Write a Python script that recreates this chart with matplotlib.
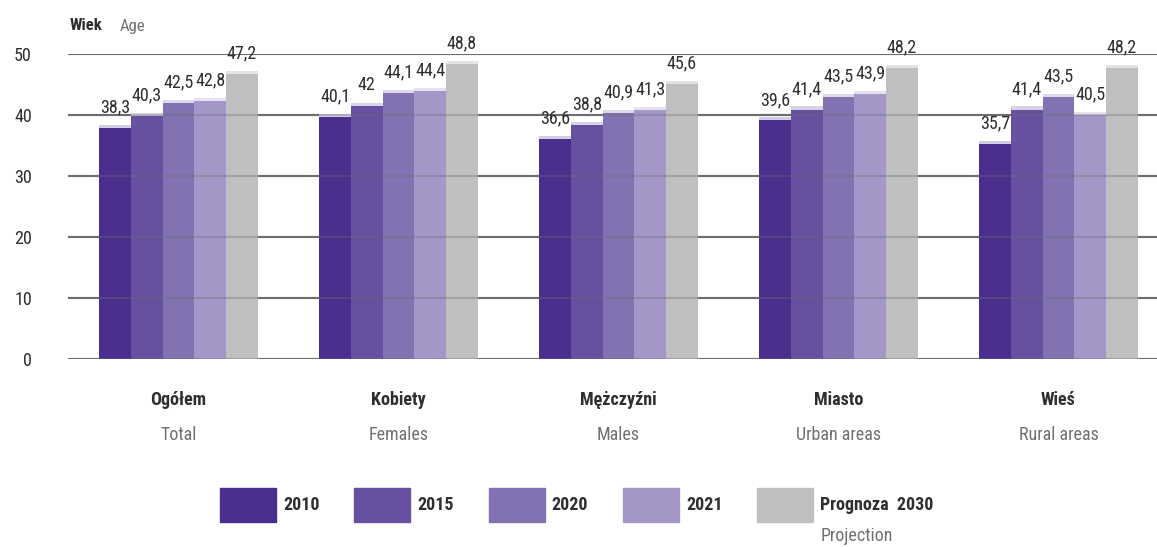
import matplotlib.pyplot as plt
import numpy as np
from matplotlib.patches import Rectangle

plt.rcParams['font.family'] = ['Liberation Sans Narrow', 'Roboto Condensed', 'DejaVu Sans']

# dane
cats_pl = ['Ogółem', 'Kobiety', 'Mężczyźni', 'Miasto', 'Wieś']
cats_en = ['Total', 'Females', 'Males', 'Urban areas', 'Rural areas']
series = ['2010', '2015', '2020', '2021', 'Prognoza  2030']
v2010 = [38.3, 40.1, 36.6, 39.6, 35.7]
v2015 = [40.3, 42.0, 38.8, 41.4, 41.4]
v2020 = [42.5, 44.1, 40.9, 43.5, 43.5]
v2021 = [42.8, 44.4, 41.3, 43.9, 40.5]
v2030 = [47.2, 48.8, 45.6, 48.2, 48.2]
values = [v2010, v2015, v2020, v2021, v2030]

colors = ['#4b2e8e', '#6750a0', '#8372b2', '#a497c8', '#bfbfc1']
caps = ['#d3cde3', '#d8d2e7', '#ddd8eb', '#e6e1f0', '#e4e4e5']

fig = plt.figure(figsize=(11.57, 5.47), dpi=100)
ax = fig.add_axes([68 / 1157, 1 - 359 / 547, 1 - 68 / 1157, 305 / 547])

x = np.arange(len(cats_pl))
w = 0.144

# siatka pod słupkami i lekko na nich
for yv in range(0, 51, 10):
    ax.axhline(yv, color='#6d6d6d', lw=1.5, zorder=0)
    ax.axhline(yv, color='#6d6d6d', lw=1.5, alpha=0.35, zorder=4)

for i, vals in enumerate(values):
    xs = x + (i - 2) * w
    ax.bar(xs, vals, width=w, color=colors[i], zorder=2)
    ax.bar(xs, [0.5] * len(vals), bottom=np.array(vals) - 0.5, width=w,
           color=caps[i], zorder=3)
    for xx, v in zip(xs, vals):
        txt = ('%g' % v).replace('.', ',')
        ax.text(xx, v + 1.4, txt, ha='center', va='bottom', fontsize=13,
                color='#2e2e2e', zorder=5)

ax.set_xlim(-0.502, 4.448)
ax.set_ylim(0, 50)
for s in ax.spines.values():
    s.set_visible(False)
ax.set_xticks([])
ax.set_yticks(range(0, 51, 10))
ax.tick_params(axis='y', length=0, pad=26, labelsize=13, labelcolor='#2e2e2e')

for i in range(len(cats_pl)):
    ax.text(x[i], -6.7, cats_pl[i], ha='center', va='center', fontsize=13,
            color='#2e2e2e', fontweight='bold')
    ax.text(x[i], -12.5, cats_en[i], ha='center', va='center', fontsize=13,
            color='#707070')

fig.text(70 / 1157, 1 - 26 / 547, 'Wiek', ha='left', va='center', fontsize=12,
         color='#2e2e2e', fontweight='bold')
fig.text(120 / 1157, 1 - 26 / 547, 'Age', ha='left', va='center', fontsize=12,
         color='#707070')

# legenda
for i, lab in enumerate(series):
    left = 220 + i * 134.3
    fig.patches.append(Rectangle((left / 1157, 1 - 522 / 547), 56 / 1157, 34 / 547,
                                 transform=fig.transFigure, color=colors[i]))
    fig.text((left + 63) / 1157, 1 - 505 / 547, lab, ha='left', va='center',
             fontsize=13, color='#2e2e2e', fontweight='bold')
fig.text((220 + 4 * 134.3 + 63) / 1157, 1 - 536 / 547, 'Projection', ha='left',
         va='center', fontsize=13, color='#707070')

fig.savefig('out.png', dpi=100)
